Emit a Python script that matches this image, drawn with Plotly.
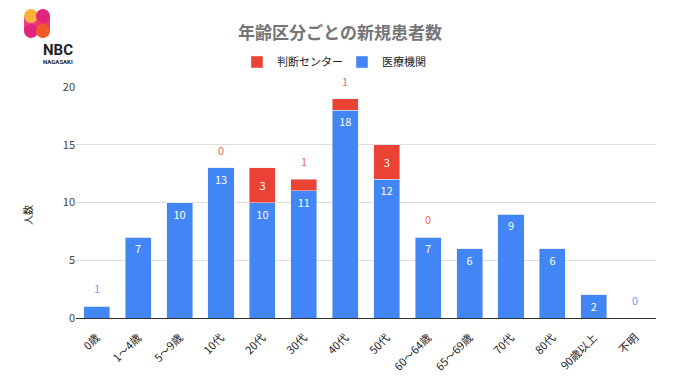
import plotly.graph_objects as go

categories = ["0歳", "1〜4歳", "5〜9歳", "10代", "20代", "30代", "40代", "50代",
              "60〜64歳", "65〜69歳", "70代", "80代", "90歳以上", "不明"]
iryo = [1, 7, 10, 13, 10, 11, 18, 12, 7, 6, 9, 6, 2, 0]
handan = [0, 0, 0, 0, 3, 1, 1, 3, 0, 0, 0, 0, 0, 0]
# which labels are shown (as in the source chart)
iryo_label_outside = ["0歳", "不明"]
handan_label_shown = ["10代", "20代", "30代", "40代", "50代", "60〜64歳"]
yticks = [0, 5, 10, 15, 20]

BLUE = "#4285F4"
RED = "#EA4335"
FONT = "Noto Sans CJK JP"

# page has an 8px body margin: figure sized to fit the 680x382 window
OFF = 8
W, H = 680 - OFF, 382 - OFF

blue_text = ["" if c in iryo_label_outside else str(v) for c, v in zip(categories, iryo)]
red_text = [str(v) if (c in handan_label_shown and v >= 2) else "" for c, v in zip(categories, handan)]

fig = go.Figure()
fig.add_trace(go.Bar(x=categories, y=iryo, name="医療機関", marker_color=BLUE,
                     text=blue_text, textposition="inside", insidetextanchor="end",
                     textfont=dict(color="white", size=11, family=FONT),
                     cliponaxis=False))
fig.add_trace(go.Bar(x=categories, y=handan, name="判断センター", marker_color=RED,
                     text=red_text, textposition="inside", insidetextanchor="middle",
                     textfont=dict(color="white", size=11, family=FONT)))

annotations = []
for c, b, r in zip(categories, iryo, handan):
    if c in iryo_label_outside:
        annotations.append(dict(x=c, y=b + r, text=str(b), showarrow=False, yanchor="bottom",
                                yshift=8, font=dict(color="#6f9cf0", size=11, family=FONT)))
    if c in handan_label_shown and r < 2:
        annotations.append(dict(x=c, y=b + r, text=str(r), showarrow=False, yanchor="bottom",
                                yshift=8, font=dict(color="#e8695e", size=11, family=FONT)))


def px(x):
    return (x - 76) / 580


def py(y):
    return (318 - y) / 231


# y axis title
annotations.append(dict(xref="paper", yref="paper", x=px(27), y=py(215), text="人数",
                        textangle=-90, showarrow=False, xanchor="center", yanchor="middle",
                        font=dict(size=10, color="#222", family=FONT)))

# logo text
annotations.append(dict(xref="paper", yref="paper", x=px(41), y=py(50),
                        text="<b>NBC</b>", showarrow=False, yanchor="middle",
                        font=dict(size=15, color="#222", family="Roboto")))
annotations.append(dict(xref="paper", yref="paper", x=px(41), y=py(61),
                        text="<b>NAGASAKI</b>", showarrow=False, yanchor="middle",
                        font=dict(size=6, color="#222", family="Roboto")))

shapes = []
r = 7
# logo pills of the "N"
shapes.append(dict(type="rect", xref="paper", yref="paper", x0=px(24), x1=px(38),
                   y0=py(31), y1=py(16), fillcolor="#ec3f86", line_width=0, layer="above"))
shapes.append(dict(type="rect", xref="paper", yref="paper", x0=px(36), x1=px(50),
                   y0=py(31), y1=py(16), fillcolor="#ea3a6a", line_width=0, layer="above"))
for cx, cy, col in [(31, 16, "#f9b13c"), (43, 16, "#e2247f"),
                    (31, 31, "#e2247f"), (43, 31, "#f05a2a")]:
    shapes.append(dict(type="circle", xref="paper", yref="paper",
                       x0=px(cx - r), x1=px(cx + r), y0=py(cy + r), y1=py(cy - r),
                       fillcolor=col, line_width=0, layer="above"))

fig.update_layout(
    barmode="stack",
    width=W, height=H,
    margin=dict(l=76 - OFF, r=24, t=87 - OFF, b=64, autoexpand=False),
    paper_bgcolor="white", plot_bgcolor="white",
    bargap=0.37,
    font=dict(family=FONT, color="#444"),
    title=dict(text="<b>年齢区分ごとの新規患者数</b>", x=(340 - OFF) / W, xanchor="center",
               xref="container", yref="container", y=1 - (33 - OFF) / H, yanchor="middle",
               font=dict(size=17, color="#757575", family=FONT)),
    legend=dict(orientation="h", traceorder="reversed", xref="container", yref="container",
                x=(342 - OFF) / W, xanchor="center", y=1 - (62 - OFF) / H, yanchor="middle",
                font=dict(size=11, color="#222", family=FONT), itemwidth=30,
                entrywidth=60),
    xaxis=dict(tickangle=-45, tickfont=dict(size=11, color="#222", family=FONT),
               showline=True, linecolor="#333", linewidth=1, ticks="", showgrid=False,
               automargin=False, ticklabelstandoff=8),
    yaxis=dict(range=[0, 20], tickvals=yticks, showgrid=True, gridcolor="#dddddd",
               zeroline=False, tickfont=dict(size=11, color="#444"), automargin=False),
    annotations=annotations,
    shapes=shapes,
    showlegend=True,
)

fig.write_html("out.html")
